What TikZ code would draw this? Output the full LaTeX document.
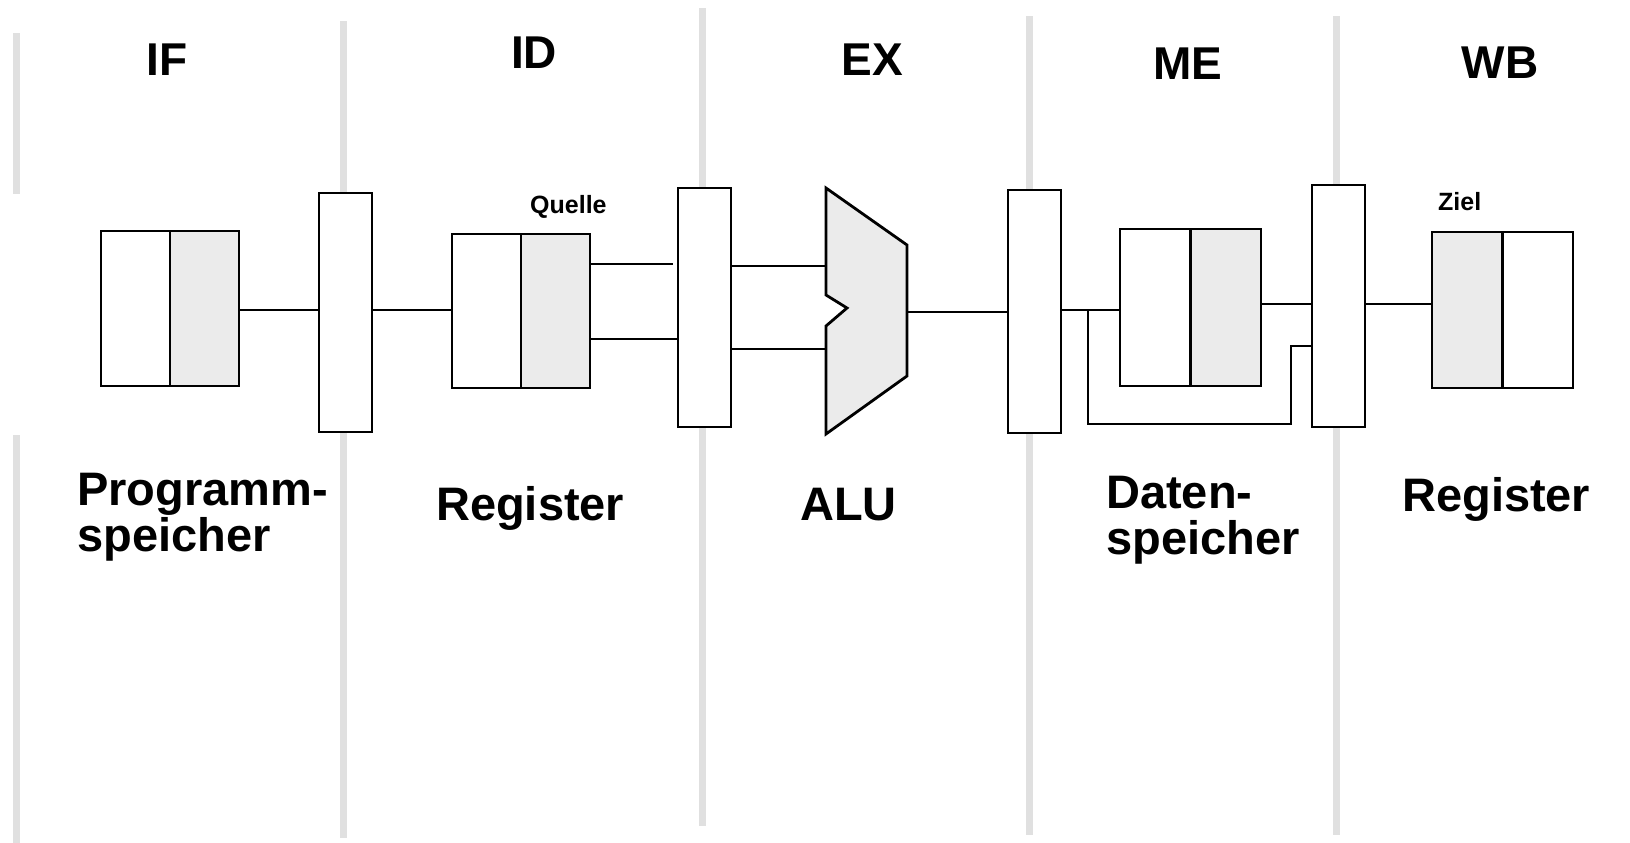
\documentclass[tikz,border=0pt]{standalone}
\usepackage{fontspec}
\setmainfont{Liberation Sans}
\definecolor{sepgrey}{RGB}{224,224,224}
\definecolor{memgrey}{RGB}{235,235,235}
\begin{document}
\begin{tikzpicture}[x=1pt,y=-1pt,
  sepline/.style={line width=7pt, draw=sepgrey},
  wire/.style={line width=2.8pt},
  pipereg/.style={draw, line width=2.8pt, fill=white, minimum width=53pt, inner sep=0pt},
  mem/.style={draw, line width=2.8pt, fill=white, inner sep=0pt},
  shaderight/.style={path picture={\fill[memgrey] (path picture bounding box.north) rectangle (path picture bounding box.south east); \draw[line width=2.8pt] (path picture bounding box.north) -- (path picture bounding box.south);}},
  shadeleft/.style={path picture={\fill[memgrey] (path picture bounding box.north) rectangle (path picture bounding box.south west); \draw[line width=2.8pt] (path picture bounding box.north) -- (path picture bounding box.south);}},
  stage/.style={font=\bfseries\fontsize{46}{46}\selectfont, inner sep=0pt, anchor=base},
  unit/.style={font=\bfseries\fontsize{47}{46}\selectfont, inner sep=0pt, align=left},
  unitone/.style={font=\bfseries\fontsize{47}{46}\selectfont, inner sep=0pt, anchor=base west},
  small/.style={font=\bfseries\fontsize{25}{25}\selectfont, inner sep=0pt, anchor=base west}
]
\useasboundingbox (0,0) rectangle (1630,843);
% stage separators
\draw[sepline] (16,33) -- (16,194);
\draw[sepline] (16,435) -- (16,843);
\draw[sepline] (343,21) -- (343,838);
\draw[sepline] (702,8) -- (702,826);
\draw[sepline] (1029,16) -- (1029,835);
\draw[sepline] (1336,16) -- (1336,835);
% stage headings
\node[stage] (hIF) at (167,75) {IF};
\node[stage] (hID) at (534,68) {ID};
\node[stage] (hEX) at (872,76) {EX};
\node[stage] (hME) at (1188,79) {ME};
\node[stage] (hWB) at (1500,78) {WB};
% memories / register files
\node[mem, shaderight, minimum width=138pt, minimum height=155pt] (prog) at (170,308.5) {};
\node[mem, shaderight, minimum width=138pt, minimum height=154pt] (idreg) at (521,311) {};
\node[mem, shaderight, minimum width=141pt, minimum height=157pt] (daten) at (1190.5,307.5) {};
\node[mem, shadeleft, minimum width=141pt, minimum height=156pt] (wbreg) at (1502.5,310) {};
% pipeline registers
\node[pipereg, minimum height=239pt] (R1) at (345.5,312.5) {};
\node[pipereg, minimum height=239pt] (R2) at (704.5,307.5) {};
\node[pipereg, minimum height=243pt] (R3) at (1034.5,311.5) {};
\node[pipereg, minimum height=242pt] (R4) at (1338.5,306) {};
% ALU
\coordinate (alu-tl) at (826,188);
\coordinate (alu-out) at (907,312);
\draw[wire, fill=memgrey, line join=miter] (alu-tl) -- (907,245) -- (907,376) -- (826,434) -- (826,326) -- (847,308) -- (826,295) -- cycle;
% small labels
\node[small] (quelle) at (530,213) {Quelle};
\node[small] (ziel) at (1438,210) {Ziel};
% unit labels
\node[unit, anchor=north west] (lprog) at (77,473) {Programm-\\speicher};
\node[unitone] (lreg1) at (436,520) {Register};
\node[unitone] (lalu) at (800,520) {ALU};
\node[unit, anchor=north west] (ldaten) at (1106,476) {Daten-\\speicher};
\node[unitone] (lreg2) at (1402,511) {Register};
% wires
\draw[wire] (prog.east |- 0,310) -- (R1.west |- 0,310);
\draw[wire] (R1.east |- 0,310) -- (idreg.west |- 0,310);
\draw[wire] (idreg.east |- 0,264) -- (673,264);
\draw[wire] (idreg.east |- 0,339) -- (R2.west |- 0,339);
\draw[wire] (R2.east |- 0,266) -- (alu-tl |- 0,266);
\draw[wire] (R2.east |- 0,349) -- (alu-tl |- 0,349);
\draw[wire] (alu-out) -- (alu-out -| R3.west);
\draw[wire] (R3.east |- 0,310) -- (daten.west |- 0,310);
\coordinate (fb) at (1088,310);
\draw[wire] (fb) -- (1088,424) -| (1291,346) -- (R4.west |- 0,346);
\draw[wire] (daten.east |- 0,304) -- (R4.west |- 0,304);
\draw[wire] (R4.east |- 0,304) -- (wbreg.west |- 0,304);
\end{tikzpicture}
\end{document}
